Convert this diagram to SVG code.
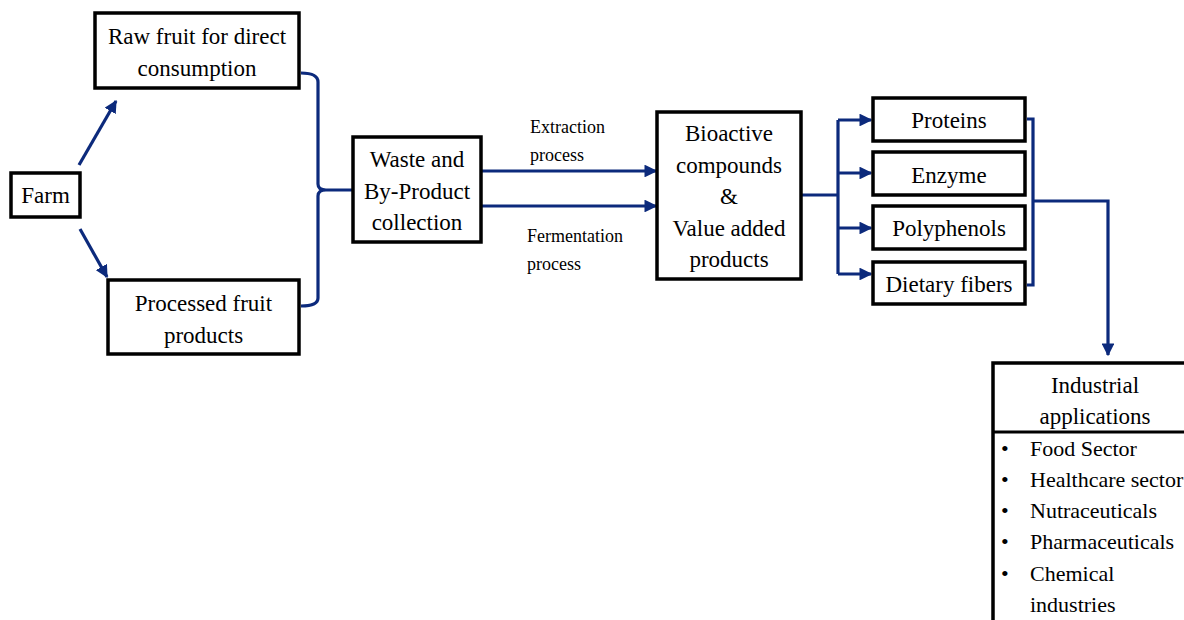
<svg xmlns="http://www.w3.org/2000/svg" width="1184" height="620" viewBox="0 0 1184 620">
<style>
.box{fill:#fff;stroke:#000;stroke-width:3.5}
text{font-family:'Liberation Serif','Times New Roman','DejaVu Serif',serif;fill:#000}
.t{font-size:23px;text-anchor:middle}
.s{font-size:18px}
.l{font-size:22px}
.c{fill:none;stroke:#0c2a7c;stroke-width:3.2}
</style>
<defs>
<marker id="ah" viewBox="0 0 10 10" refX="9" refY="5" markerWidth="4" markerHeight="4" orient="auto" markerUnits="strokeWidth">
<path d="M0,0 L10,5 L0,10 z" fill="#0c2a7c"/>
</marker>
</defs>
<rect width="1184" height="620" fill="#fff"/>
<g id="connectors">
<path class="c" d="M79,165 L116,101" marker-end="url(#ah)"/>
<path class="c" d="M80,229 L107,277" marker-end="url(#ah)"/>
<path class="c" d="M301,73 Q318,73 318,82 L318,184 Q318,190 326,190 L352,190 M326,190 Q318,190 318,196 L318,298 Q318,306 301,306"/>
<path class="c" d="M482,171 L656,171" marker-end="url(#ah)"/>
<path class="c" d="M482,206 L656,206" marker-end="url(#ah)"/>
<path class="c" d="M802,195 L838,195 M838,120 L838,274"/>
<path class="c" d="M838,120 L871,120" marker-end="url(#ah)"/>
<path class="c" d="M838,173 L871,173" marker-end="url(#ah)"/>
<path class="c" d="M838,228 L871,228" marker-end="url(#ah)"/>
<path class="c" d="M838,274 L871,274" marker-end="url(#ah)"/>
<path class="c" d="M1027,119 L1033,119 L1033,285 L1027,285 M1033,201 L1108,201 L1108,355" marker-end="url(#ah)"/>
</g>
<g id="farm">
<rect class="box" x="11" y="173" width="69" height="44"/>
<text class="t" x="45.5" y="203">Farm</text>
</g>
<g id="raw">
<rect class="box" x="95" y="13" width="204" height="75"/>
<text class="t" x="197" y="44">Raw fruit for direct</text>
<text class="t" x="197" y="76">consumption</text>
</g>
<g id="processed">
<rect class="box" x="108" y="280" width="191" height="74"/>
<text class="t" x="203.5" y="311">Processed fruit</text>
<text class="t" x="203.5" y="343">products</text>
</g>
<g id="waste">
<rect class="box" x="353" y="137" width="128" height="105"/>
<text class="t" x="417" y="167">Waste and</text>
<text class="t" x="417" y="199">By-Product</text>
<text class="t" x="417" y="230">collection</text>
</g>
<g id="labels">
<text class="s" x="530" y="133">Extraction</text>
<text class="s" x="530" y="161">process</text>
<text class="s" x="527" y="242">Fermentation</text>
<text class="s" x="527" y="270">process</text>
</g>
<g id="bioactive">
<rect class="box" x="657" y="112" width="144" height="167"/>
<text class="t" x="729" y="141">Bioactive</text>
<text class="t" x="729" y="173">compounds</text>
<text class="t" x="729" y="204">&amp;</text>
<text class="t" x="729" y="236">Value added</text>
<text class="t" x="729" y="267">products</text>
</g>
<g id="proteins">
<rect class="box" x="873" y="98" width="152" height="43"/>
<text class="t" x="949" y="128">Proteins</text>
</g>
<g id="enzyme">
<rect class="box" x="873" y="152" width="152" height="43"/>
<text class="t" x="949" y="183">Enzyme</text>
</g>
<g id="polyphenols">
<rect class="box" x="873" y="206" width="152" height="43"/>
<text class="t" x="949" y="236">Polyphenols</text>
</g>
<g id="fibers">
<rect class="box" x="873" y="262" width="152" height="42"/>
<text class="t" x="949" y="292">Dietary fibers</text>
</g>
<g id="industrial">
<rect class="box" x="993" y="363" width="200" height="270"/>
<line x1="993" y1="432" x2="1184" y2="432" stroke="#000" stroke-width="3"/>
<text class="t" x="1095" y="393">Industrial</text>
<text class="t" x="1095" y="424">applications</text>
<text class="l" x="1001" y="456">•</text>
<text class="l" x="1030" y="456">Food Sector</text>
<text class="l" x="1001" y="487">•</text>
<text class="l" x="1030" y="487">Healthcare sector</text>
<text class="l" x="1001" y="518">•</text>
<text class="l" x="1030" y="518">Nutraceuticals</text>
<text class="l" x="1001" y="549">•</text>
<text class="l" x="1030" y="549">Pharmaceuticals</text>
<text class="l" x="1001" y="581">•</text>
<text class="l" x="1030" y="581">Chemical</text>
<text class="l" x="1030" y="612">industries</text>
</g>
</svg>
